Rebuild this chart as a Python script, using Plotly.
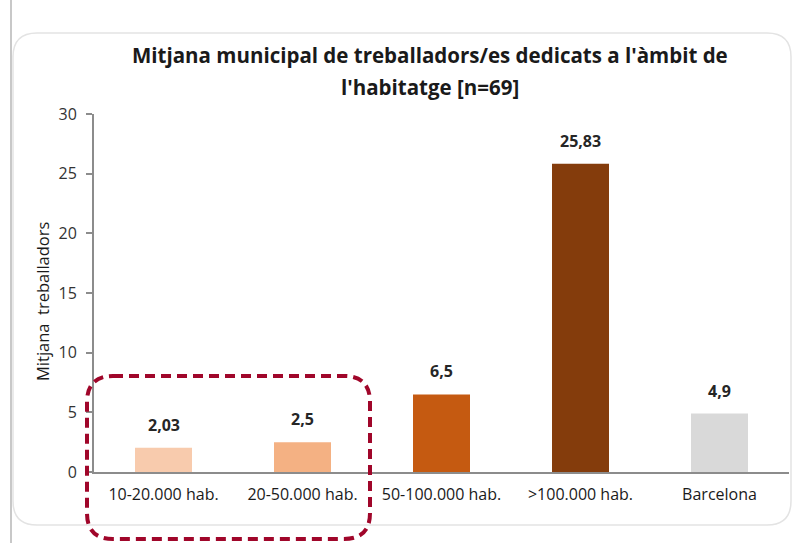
import plotly.graph_objects as go

# Chart data
categories = ["10-20.000 hab.", "20-50.000 hab.", "50-100.000 hab.", ">100.000 hab.", "Barcelona"]
values = [2.03, 2.5, 6.5, 25.83, 4.9]
bar_colors = ["#F8CBAD", "#F4B183", "#C55A11", "#843C0C", "#D9D9D9"]
y_ticks = [0, 5, 10, 15, 20, 25, 30]
title_lines = ["Mitjana municipal de treballadors/es dedicats a l'àmbit de",
               "l'habitatge [n=69]"]
y_title = "Mitjana\u00a0 treballadors"

W, H = 792, 543
L, R, T, B = 94, 789, 114, 472  # plot area in pixels

FONT = "Open Sans"


def px(x):
    return (x - L) / (R - L)


def py(y):
    return (B - y) / (B - T)


def rounded_path(x0, y0, x1, y1, r):
    """SVG path of a rounded rectangle given in pixels, returned in paper units."""
    pts = [
        ("M", [(x0 + r, y0)]),
        ("L", [(x1 - r, y0)]),
        ("Q", [(x1, y0), (x1, y0 + r)]),
        ("L", [(x1, y1 - r)]),
        ("Q", [(x1, y1), (x1 - r, y1)]),
        ("L", [(x0 + r, y1)]),
        ("Q", [(x0, y1), (x0, y1 - r)]),
        ("L", [(x0, y0 + r)]),
        ("Q", [(x0, y0), (x0 + r, y0)]),
    ]
    out = []
    for cmd, coords in pts:
        out.append(cmd + " " + " ".join(f"{px(a):.5f},{py(b):.5f}" for a, b in coords))
    return " ".join(out) + " Z"


fig = go.Figure()
fig.add_trace(go.Bar(
    x=categories,
    y=values,
    marker=dict(color=bar_colors, line=dict(width=0)),
    width=0.41,
    hoverinfo="skip",
))

# value labels above each bar
for c, v in zip(categories, values):
    fig.add_annotation(
        x=c, y=v, text=f"<b>{v:g}</b>".replace(".", ","),
        showarrow=False, yanchor="bottom", yshift=10,
        font=dict(family=FONT, size=16, color="#262626"),
    )

# two-line title
for i, line in enumerate(title_lines):
    fig.add_annotation(
        xref="paper", yref="paper", x=px(430), y=py(55 + 32 * i),
        text=f"<b>{line}</b>", showarrow=False, xanchor="center", yanchor="middle",
        font=dict(family=FONT, size=20.5, color="#1a1a1a"),
    )

# vertical axis title
fig.add_annotation(
    xref="paper", yref="paper", x=px(42), y=py(302),
    text=y_title, textangle=-90, showarrow=False,
    xanchor="center", yanchor="middle",
    font=dict(family=FONT, size=16.5, color="#1a1a1a"),
)

shapes = [
    # outer chart frame
    dict(type="path", xref="paper", yref="paper",
         path=rounded_path(13, 33, 791, 525, 24),
         line=dict(color="#E3E3E3", width=1.5), layer="below"),
    # left vertical rule
    dict(type="line", xref="paper", yref="paper",
         x0=px(11), x1=px(11), y0=py(0), y1=py(543),
         line=dict(color="#C8C8C8", width=2)),
    # dashed highlight around the smaller municipalities
    dict(type="path", xref="paper", yref="paper",
         path=rounded_path(87, 376, 370, 539, 26),
         line=dict(color="#A0062A", width=4, dash="10px,6px")),
]

fig.update_layout(
    width=W, height=H,
    margin=dict(l=L, r=W - R, t=T, b=H - B),
    paper_bgcolor="white", plot_bgcolor="white",
    showlegend=False,
    shapes=shapes,
    font=dict(family=FONT, color="#262626"),
    xaxis=dict(
        showline=True, linecolor="#8C8C8C", linewidth=2,
        ticks="", tickfont=dict(family=FONT, size=16, color="#1a1a1a"),
        ticklabelstandoff=7, showgrid=False, fixedrange=True,
    ),
    yaxis=dict(
        range=[0, 30], tickvals=y_ticks, showgrid=False, zeroline=False,
        showline=True, linecolor="#8C8C8C", linewidth=2,
        ticks="outside", ticklen=6, tickcolor="#8C8C8C", tickwidth=1.5,
        ticklabelstandoff=6,
        tickfont=dict(family=FONT, size=16, color="#333333"),
        fixedrange=True,
    ),
)

fig.write_html("out.html", config={"displayModeBar": False})
